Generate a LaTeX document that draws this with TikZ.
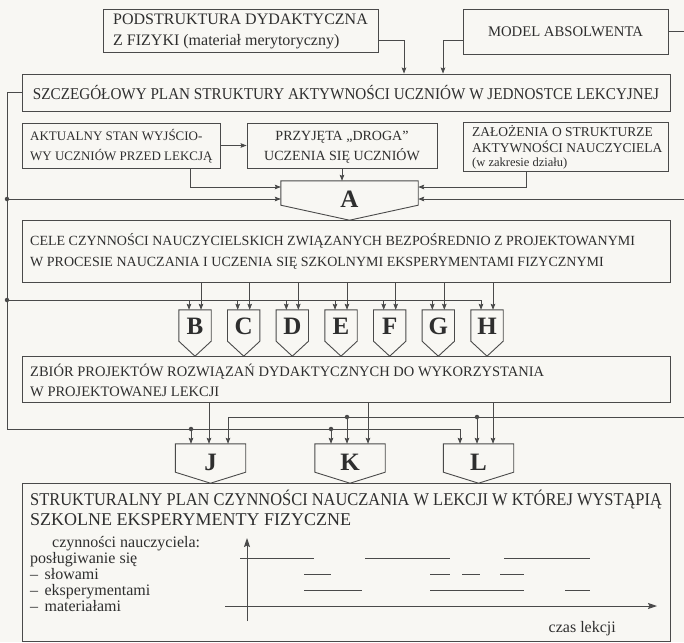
\documentclass[tikz,border=0pt]{standalone}
\usepackage{graphicx}
\usepackage{fontspec}
\setmainfont{Liberation Serif}
\usetikzlibrary{arrows.meta,calc}
\definecolor{bgc}{HTML}{F8F7F3}
\definecolor{linec}{HTML}{4A4A4A}
\definecolor{textc}{HTML}{2E2E2E}
\newcommand{\myfs}[1]{\fontsize{#1pt}{#1pt}\selectfont}
\begin{document}
\begin{tikzpicture}[x=1pt,y=-1pt,
  box/.style={draw=linec, line width=0.9pt, rectangle, inner sep=0pt},
  txt/.style={text=textc, inner sep=0pt},
  wire/.style={draw=linec, line width=0.75pt},
  arr/.style={wire, -{Stealth[length=6pt,width=4.6pt,inset=1pt]}},
  axarr/.style={wire, line width=0.9pt, -{Stealth[length=9pt,width=6pt,inset=1.5pt]}},
  pent/.style={draw=linec, line width=0.9pt, line join=miter},
  topart/.style={inner sep=0pt, rectangle},
  letter/.style={text=textc, inner sep=0pt, font=\myfs{25}\bfseries},
  jdot/.style={circle, fill=linec, inner sep=0pt, minimum size=4.5pt}
]
\fill[bgc] (0,0) rectangle (684,642);
\useasboundingbox (0,0) rectangle (684,642);

% ---------- coordinates for buses
\coordinate (L0) at (7,92.5);
\coordinate (LA) at (7,199);
\coordinate (LB) at (7,300);
\coordinate (LJ) at (7,429);
\coordinate (R0) at (684,32);
\coordinate (RA) at (684,199);
\coordinate (RJ) at (684,417);
\coordinate (p1) at (404,0);
\coordinate (p2) at (443,0);
\coordinate (p3) at (190,0);
\coordinate (p4) at (526,0);

% ---------- top boxes
\node[box, minimum width=275pt, minimum height=43pt] (pod) at (240.5,30.5) {};
\node[txt, anchor=base west, font=\myfs{16}] (podA) at (113,25) {PODSTRUKTURA DYDAKTYCZNA};
\node[txt, anchor=base west, font=\myfs{16}] (podB) at (113,45.5) {Z FIZYKI (materiał merytoryczny)};

\node[box, minimum width=205pt, minimum height=45pt] (model) at (565.5,31.5) {};
\node[txt, anchor=base, font=\myfs{14.7}] (modelt) at (565.5,36.5) {MODEL ABSOLWENTA};

\node[box, minimum width=648pt, minimum height=37pt] (szcz) at (346,92.5) {};
\node[txt, anchor=base, font=\myfs{16.5}] (szczt) at (346,99) {\scalebox{0.92}[1]{SZCZEGÓŁOWY PLAN STRUKTURY AKTYWNOŚCI UCZNIÓW W JEDNOSTCE LEKCYJNEJ}};

\draw[arr] ([yshift=-9.5pt]pod.east) -| (p1 |- szcz.north);
\draw[arr] ([yshift=-8.5pt]model.west) -| (p2 |- szcz.north);
\draw[wire] (model.east) -- (model.east -| R0);

% ---------- second row
\node[box, minimum width=198pt, minimum height=45pt] (akt) at (121,145.5) {};
\node[txt, anchor=base west, font=\myfs{13}] (aktA) at (30,140.5) {AKTUALNY STAN WYJŚCIO-};
\node[txt, anchor=base west, font=\myfs{13}] (aktB) at (30,160.5) {WY UCZNIÓW PRZED LEKCJĄ};

\node[box, minimum width=190pt, minimum height=45pt] (prz) at (342,145.5) {};
\node[txt, anchor=base, font=\myfs{14}] (przA) at (342,140.5) {PRZYJĘTA „DROGA”};
\node[txt, anchor=base, font=\myfs{14}] (przB) at (342,160.5) {UCZENIA SIĘ UCZNIÓW};

\node[box, minimum width=205pt, minimum height=49pt] (zal) at (565.5,146.5) {};
\node[txt, anchor=base west, font=\myfs{13.5}] (zalA) at (472,136) {ZAŁOŻENIA O STRUKTURZE};
\node[txt, anchor=base west, font=\myfs{13.5}] (zalB) at (472,152) {AKTYWNOŚCI NAUCZYCIELA};
\node[txt, anchor=base west, font=\myfs{12.5}] (zalC) at (472,166) {(w zakresie działu)};

\draw[arr] (akt.east) -- (prz.west);

% ---------- A
\node[topart, minimum width=137pt, minimum height=24pt] (A) at (349.5,193) {};
\draw[pent] (A.north west) -- (A.south west) -- ($(A.south)+(0,15)$) -- (A.south east) -- (A.north east) -- cycle;
\node[letter] (A-lab) at ($(A.center)+(0,6)$) {A};

\draw[arr] (prz.south) -- (prz.south |- A.north);
\draw[arr] (p3 |- akt.south) |- ([yshift=6pt]A.west);
\draw[arr] (p4 |- zal.south) |- ([yshift=6pt]A.east);
\draw[arr] (RA) -- ([yshift=-6pt]A.east);

% ---------- CELE
\node[box, minimum width=648pt, minimum height=62pt] (cele) at (346,251) {};
\node[txt, anchor=base west, font=\myfs{14}] (celeA) at (30,245) {CELE CZYNNOŚCI NAUCZYCIELSKICH ZWIĄZANYCH BEZPOŚREDNIO Z PROJEKTOWANYMI};
\node[txt, anchor=base west, font=\myfs{14}] (celeB) at (30,266) {W PROCESIE NAUCZANIA I UCZENIA SIĘ SZKOLNYMI EKSPERYMENTAMI FIZYCZNYMI};

% ---------- B..H
\foreach \nm/\cx in {B/195,C/243.7,D/292.3,E/341,F/389.7,G/438.3,H/487} {
  \node[topart, minimum width=32pt, minimum height=31pt] (\nm) at (\cx,325.5) {};
  \draw[pent] (\nm.north west) -- (\nm.south west) -- ($(\nm.south)+(0,15)$) -- (\nm.south east) -- (\nm.north east) -- cycle;
  \node[letter] (\nm-lab) at ($(\nm.center)+(0,1)$) {\nm};
  \draw[arr] ([xshift=6pt]\nm.north |- cele.south) -- ([xshift=6pt]\nm.north);
}
\foreach \nm in {B,C,D,E,F,G} {
  \draw[arr] ([xshift=-6pt]\nm.north |- LB) -- ([xshift=-6pt]\nm.north);
}

% ---------- left bus
\node[jdot] (dA) at (LA) {};
\node[jdot] (dB) at (LB) {};
\draw[arr] (dA) -- ([yshift=-6pt]A.west);
\draw[arr] (dB) -- ([xshift=-6pt]H.north |- LB) -- ([xshift=-6pt]H.north);

% ---------- ZBIÓR
\node[box, minimum width=648pt, minimum height=46pt] (zbior) at (346,379) {};
\node[txt, anchor=base west, font=\myfs{14.5}] (zbA) at (30,376) {ZBIÓR PROJEKTÓW ROZWIĄZAŃ DYDAKTYCZNYCH DO WYKORZYSTANIA};
\node[txt, anchor=base west, font=\myfs{14.5}] (zbB) at (30,396) {W PROJEKTOWANEJ LEKCJI};

% ---------- J K L
\foreach \nm/\cx in {J/210.5,K/350,L/478.5} {
  \node[topart, minimum width=70pt, minimum height=28pt] (\nm) at (\cx,458) {};
  \draw[pent] (\nm.north west) -- (\nm.south west) -- ($(\nm.south)+(0,11)$) -- (\nm.south east) -- (\nm.north east) -- cycle;
  \node[letter] (\nm-lab) at ($(\nm.center)+(0,4)$) {\nm};
}
\draw[arr] ([xshift=-1.5pt]J.north |- zbior.south) -- ([xshift=-1.5pt]J.north);
\draw[arr] ([xshift=18pt]K.north |- zbior.south) -- ([xshift=18pt]K.north);
\draw[arr] ([xshift=14.5pt]L.north |- zbior.south) -- ([xshift=14.5pt]L.north);

% left bus: from SZCZEG down to L
\draw[arr] (szcz.west) -- (L0) -- (LJ) -- ([xshift=-18.5pt]L.north |- LJ) -- ([xshift=-18.5pt]L.north);
\node[jdot] (dJ1) at ([xshift=-19.5pt]J.north |- LJ) {};
\node[jdot] (dK1) at ([xshift=-19pt]K.north |- LJ) {};
\draw[arr] (dJ1) -- ([xshift=-19.5pt]J.north);
\draw[arr] (dK1) -- ([xshift=-19pt]K.north);

% right bus: to J
\draw[arr] (RJ) -- ([xshift=17.5pt]J.north |- RJ) -- ([xshift=17.5pt]J.north);
\node[jdot] (dK2) at ([xshift=-3pt]K.north |- RJ) {};
\node[jdot] (dL2) at ([xshift=-1.5pt]L.north |- RJ) {};
\draw[arr] (dK2) -- ([xshift=-3pt]K.north);
\draw[arr] (dL2) -- ([xshift=-1.5pt]L.north);

% ---------- STRUKTURALNY
\node[box, minimum width=648pt, minimum height=158pt] (strukt) at (346,562) {};
\node[txt, anchor=base west, font=\myfs{18}] (stA) at (30,505) {\scalebox{0.913}[1]{STRUKTURALNY PLAN CZYNNOŚCI NAUCZANIA W LEKCJI W KTÓREJ WYSTĄPIĄ}};
\node[txt, anchor=base west, font=\myfs{18}] (stB) at (30,525) {SZKOLNE EKSPERYMENTY FIZYCZNE};

\node[txt, anchor=base west, font=\myfs{16}] (lg0) at (52,547) {czynności nauczyciela:};
\node[txt, anchor=base west, font=\myfs{16}] (lg1) at (30,563) {posługiwanie się};
\node[txt, anchor=base west, font=\myfs{16}] (lg2) at (30,579) {–\hspace{0.4em}słowami};
\node[txt, anchor=base west, font=\myfs{16}] (lg3) at (30,595) {–\hspace{0.4em}eksperymentami};
\node[txt, anchor=base west, font=\myfs{16}] (lg4) at (30,611) {–\hspace{0.4em}materiałami};
\node[txt, anchor=base east, font=\myfs{16}] (czas) at (616,632) {czas lekcji};

\coordinate (vb) at (247,621);
\coordinate (vt) at (247,538);
\coordinate (ha) at (225,606);
\coordinate (hb) at (657,606);
\draw[axarr] (vb) -- (vt);
\draw[axarr] (ha) -- (hb);

% activity segments
\draw[wire] (240,558) -- (314,558);
\draw[wire] (365,558) -- (450,558);
\draw[wire] (504,558) -- (590,558);
\draw[wire] (304,574) -- (331,574);
\draw[wire] (430,574) -- (450,574);
\draw[wire] (462,574) -- (480,574);
\draw[wire] (500,574) -- (524,574);
\draw[wire] (304,590) -- (362,590);
\draw[wire] (430,590) -- (524,590);
\draw[wire] (565,590) -- (590,590);
\end{tikzpicture}
\end{document}
